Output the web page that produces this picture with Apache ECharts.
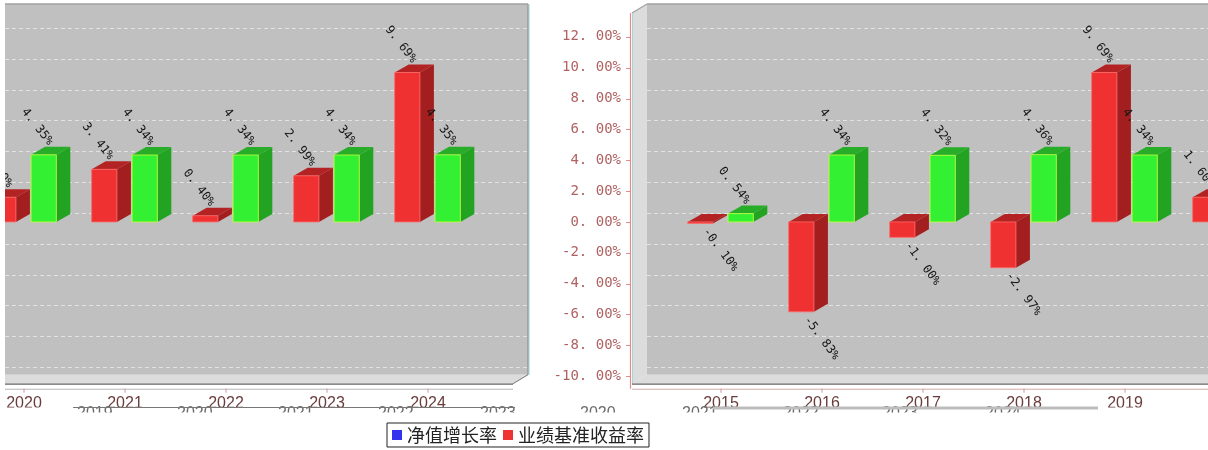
<!DOCTYPE html>
<html><head><meta charset="utf-8">
<script src="https://cdn.jsdelivr.net/npm/echarts@6/dist/echarts.min.js"></script>
<style>html,body{margin:0;padding:0;background:#fff}#c{width:1208px;height:450px}</style>
</head><body><div id="c"></div>
<script>
// ---- data ----
const leftYears = ['2020', '2021', '2022', '2023', '2024'];
const leftBenchmark = [1.60, 3.41, 0.40, 2.99, 9.69];
const leftNav = [4.35, 4.34, 4.34, 4.34, 4.35];
const rightYears = ['2015', '2016', '2017', '2018', '2019', '2020'];
const rightBenchmark = [-0.10, -5.83, -1.00, -2.97, 9.69, 1.60];
const rightNav = [0.54, 4.34, 4.32, 4.36, 4.34, 4.35];
const yTicks = [-10, -8, -6, -4, -2, 0, 2, 4, 6, 8, 10, 12];
const ghostLeft = ['2019', '2020', '2021', '2022', '2023'];
const ghostRight = ['2020', '2021', '2022', '2023', '2024'];
const legendNames = ['净值增长率', '业绩基准收益率'];

// ---- layout ----
const Y_MIN = -12, Y_MAX = 14, Y_STEP = 2, PLOT_TOP = 13.54, PLOT_BOTTOM = -10.49;
const WDX = 15, WDY = -9, BDX = 14, BDY = -8;
const BAND = 101;
const panels = [
  { left: 5, width: 508, firstCenter: 24, cut: true },
  { left: 632, width: 576, firstCenter: 721, cut: false }
];
const RED = { front: '#ef3131', top: '#b42323', side: '#a31f1f', edge: '#ff6a6a' };
const GREEN = { front: '#33f033', top: '#27ad27', side: '#22a422', edge: '#c8ff3a' };

function fmt(v) { return v.toFixed(2).replace('.', '. ') + '%'; }

function frameRender(cut) {
  return function (params, api) {
    const cs = params.coordSys;
    const fl = cs.x, fr = cs.x + cs.width + (cut ? 0 : 40);
    const yT = api.coord([0, PLOT_TOP])[1], yB = api.coord([0, PLOT_BOTTOM])[1];
    const bl = cut ? fl : fl + WDX, br = fr + WDX;
    const ch = [];
    ch.push({ type: 'polygon', shape: { points: [[bl, yT + WDY], [br, yT + WDY], [br, yB + WDY], [bl, yB + WDY]] }, style: { fill: '#c0c0c0' } });
    yTicks.forEach(function (v) {
      const y = Math.round(api.coord([0, v])[1] + WDY) + 0.5;
      ch.push({ type: 'line', shape: { x1: bl, y1: y, x2: br, y2: y }, style: { stroke: '#e2e2e2', lineWidth: 1, lineDash: [4, 3] } });
    });
    ch.push({ type: 'polygon', shape: { points: [[fl, yB], [fr, yB], [br, yB + WDY], [bl, yB + WDY]] }, style: { fill: '#dcdcdc' } });
    if (!cut) {
      ch.push({ type: 'polygon', shape: { points: [[fl, yT], [bl, yT + WDY], [bl, yB + WDY], [fl, yB]] }, style: { fill: '#dcdcdc' } });
      ch.push({ type: 'line', shape: { x1: fl, y1: yT, x2: bl, y2: yT + WDY }, style: { stroke: '#a0a0a0', lineWidth: 1.2 } });
      ch.push({ type: 'line', shape: { x1: fl + 0.5, y1: yT, x2: fl + 0.5, y2: yB }, style: { stroke: '#9fd9d9', lineWidth: 1 } });
      ch.push({ type: 'line', shape: { x1: fl - 1.5, y1: yT, x2: fl - 1.5, y2: yB + 5 }, style: { stroke: '#e48a8a', lineWidth: 1.2 } });
      yTicks.forEach(function (v) {
        const y = Math.round(api.coord([0, v])[1]) + 0.5;
        ch.push({ type: 'line', shape: { x1: fl - 6, y1: y, x2: fl - 2, y2: y }, style: { stroke: '#e48a8a', lineWidth: 1 } });
      });
    } else {
      ch.push({ type: 'line', shape: { x1: br, y1: yT + WDY, x2: br, y2: yB + WDY }, style: { stroke: '#9a9a9a', lineWidth: 1.5 } });
      ch.push({ type: 'line', shape: { x1: br + 1.5, y1: yT + WDY, x2: br + 1.5, y2: yB + WDY }, style: { stroke: '#bff0f0', lineWidth: 1 } });
    }
    ch.push({ type: 'line', shape: { x1: bl, y1: yT + WDY, x2: br, y2: yT + WDY }, style: { stroke: '#a0a0a0', lineWidth: 1.5 } });
    ch.push({ type: 'line', shape: { x1: fr, y1: yB, x2: br, y2: yB + WDY }, style: { stroke: '#777', lineWidth: 1 } });
    ch.push({ type: 'line', shape: { x1: fl, y1: yB + 0.5, x2: fr, y2: yB + 0.5 }, style: { stroke: '#666', lineWidth: 1.3 } });
    ch.push({ type: 'line', shape: { x1: fl, y1: yB + 5.5, x2: fr, y2: yB + 5.5 }, style: { stroke: cut ? '#b4b4b4' : '#d2a8a8', lineWidth: 1 } });
    return { type: 'group', children: ch };
  };
}

function xLabelRender(years) {
  return function (params, api) {
    const x = api.coord([api.value(0), 0])[0];
    const yB = api.coord([0, PLOT_BOTTOM])[1];
    return { type: 'group', children: [
      { type: 'line', shape: { x1: x, y1: yB + 5, x2: x, y2: yB + 9 }, style: { stroke: '#c99', lineWidth: 1 } },
      { type: 'text', x: x, y: yB + 12, style: { text: years[params.dataIndex], fill: '#6a3c3c', font: '16px "Liberation Sans", Arial, sans-serif', textAlign: 'center', textVerticalAlign: 'top', verticalAlign: 'top' } }
    ] };
  };
}

function barRender(o0, o1, col) {
  return function (params, api) {
    const i = api.value(0), v = api.value(1);
    const band = api.size([1, 0])[0];
    const c = api.coord([i, 0]);
    const t = api.coord([i, v]);
    const x0 = c[0] + o0 * band, w = (o1 - o0) * band;
    const yt = Math.min(c[1], t[1]), yb = Math.max(c[1], t[1]);
    const ch = [
      { type: 'polygon', shape: { points: [[x0, yt], [x0 + w, yt], [x0 + w + BDX, yt + BDY], [x0 + BDX, yt + BDY]] }, style: { fill: col.top } },
      { type: 'polygon', shape: { points: [[x0 + w, yt], [x0 + w + BDX, yt + BDY], [x0 + w + BDX, yb + BDY], [x0 + w, yb]] }, style: { fill: col.side } },
      { type: 'rect', shape: { x: x0, y: yt, width: w, height: Math.max(yb - yt, 1) }, style: { fill: col.front, stroke: col.edge, lineWidth: 0.8 } }
    ];
    const cx = x0 + w / 2;
    if (v >= 0) {
      ch.push({ type: 'text', x: cx + 7, y: t[1] - 11, rotation: -0.9, style: { text: fmt(v), fill: '#151515', font: '12px "DejaVu Sans Mono", monospace', textAlign: 'right', textVerticalAlign: 'middle' } });
    } else {
      ch.push({ type: 'text', x: cx + 5, y: t[1] + 6, rotation: -0.93, style: { text: fmt(v), fill: '#151515', font: '12px "DejaVu Sans Mono", monospace', textAlign: 'left', textVerticalAlign: 'middle' } });
    }
    return { type: 'group', children: ch };
  };
}

const grids = [], xAxes = [], yAxes = [], series = [];
panels.forEach(function (p, k) {
  const xmin = -(p.firstCenter - p.left) / BAND;
  grids.push({ left: p.left, top: 6, width: p.width, height: 401 });
  xAxes.push({ gridIndex: k, type: 'value', min: xmin, max: xmin + p.width / BAND, show: false });
  yAxes.push({ gridIndex: k, type: 'value', min: Y_MIN, max: Y_MAX, interval: Y_STEP, show: !p.cut,
    axisLine: { show: false }, axisTick: { show: false }, splitLine: { show: false },
    axisLabel: { show: true, showMinLabel: false, showMaxLabel: false, margin: 11, formatter: fmt,
      color: '#b06262', fontFamily: 'DejaVu Sans Mono', fontSize: 14 } });
  const years = p.cut ? leftYears : rightYears;
  const bench = p.cut ? leftBenchmark : rightBenchmark;
  const nav = p.cut ? leftNav : rightNav;
  series.push({ type: 'custom', name: 'frame' + k, xAxisIndex: k, yAxisIndex: k, silent: true, z: 1,
    renderItem: frameRender(p.cut), data: [[0, 0]] });
  series.push({ type: 'custom', name: 'xlab' + k, xAxisIndex: k, yAxisIndex: k, silent: true, z: 2,
    renderItem: xLabelRender(years), data: years.map(function (y, i) { return [i, 0]; }) });
  series.push({ type: 'custom', name: legendNames[1], xAxisIndex: k, yAxisIndex: k, z: 3, clip: p.cut,
    itemStyle: { color: '#ee3333' }, renderItem: barRender(-0.33, -0.08, RED),
    data: bench.map(function (v, i) { return [i, v]; }) });
  series.push({ type: 'custom', name: legendNames[0], xAxisIndex: k, yAxisIndex: k, z: 3, clip: p.cut,
    itemStyle: { color: '#3333ee' }, renderItem: barRender(0.07, 0.32, GREEN),
    data: nav.map(function (v, i) { return [i, v]; }) });
});

const graphic = [
  { type: 'rect', shape: { x: 0, y: 407.5, width: 1208, height: 14 }, style: { fill: '#fff' }, z: 100 }
];
const ghostLeftX = [77, 177, 278, 378, 480];
const ghostRightX = [580, 682, 783, 882, 985];
ghostLeft.forEach(function (t, i) {
  graphic.push({ type: 'text', x: ghostLeftX[i], y: 405.5, z: 101, style: { text: t, fill: '#6a6a6a', font: '16px "Liberation Sans", Arial, sans-serif', verticalAlign: 'top', textVerticalAlign: 'top' } });
});
ghostRight.forEach(function (t, i) {
  graphic.push({ type: 'text', x: ghostRightX[i], y: 405.5, z: 101, style: { text: t, fill: '#6a6a6a', font: '16px "Liberation Sans", Arial, sans-serif', verticalAlign: 'top', textVerticalAlign: 'top' } });
});
graphic.push({ type: 'rect', shape: { x: 0, y: 412.5, width: 1208, height: 9 }, style: { fill: '#fff' }, z: 102 });
graphic.push({ type: 'line', shape: { x1: 73, y1: 407.5, x2: 515, y2: 407.5 }, style: { stroke: '#777', lineWidth: 1.2 }, z: 103 });
graphic.push({ type: 'rect', shape: { x: 713, y: 406.5, width: 385, height: 3 }, style: { fill: '#bdbdbd' }, z: 103 });

const chart = echarts.init(document.getElementById('c'), null, { renderer: 'canvas' });
chart.setOption({
  animation: false,
  backgroundColor: '#fff',
  grid: grids,
  xAxis: xAxes,
  yAxis: yAxes,
  legend: {
    left: 387, top: 423,
    data: [
      { name: legendNames[0], itemStyle: { color: '#3333ee' } },
      { name: legendNames[1], itemStyle: { color: '#ee3333' } }
    ],
    icon: 'rect', itemWidth: 10, itemHeight: 10, itemGap: 6,
    borderColor: '#222', borderWidth: 1, padding: [3, 5],
    textStyle: { fontFamily: 'Noto Sans CJK SC', fontSize: 18, color: '#222' }
  },
  graphic: graphic,
  series: series
});
</script>
</body></html>
